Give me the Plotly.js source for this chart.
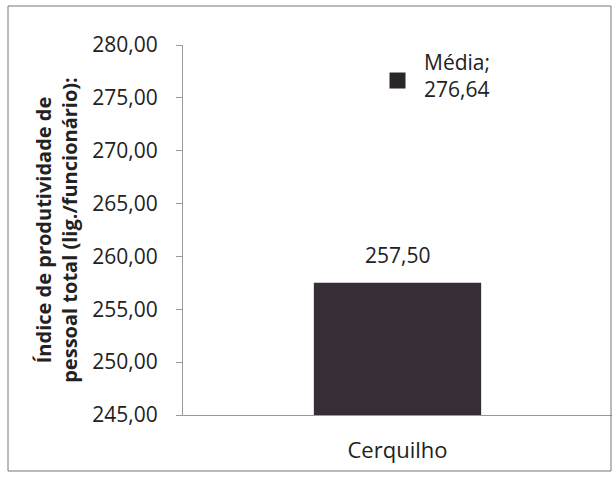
<!DOCTYPE html>
<html>
<head>
<meta charset="utf-8">
<script src="https://cdn.plot.ly/plotly-3.0.1.min.js"></script>
<style>
html,body{margin:0;padding:0;background:#fff;}
#chart{width:614px;height:479px;}
</style>
</head>
<body>
<div id="chart"></div>
<script>
const categories = ["Cerquilho"];
const barValues = [257.50];
const meanLabel = "Média";
const meanValues = [276.64];
const yTicks = [245, 250, 255, 260, 265, 270, 275, 280];
const yTitle = "Índice de produtividade de<br>pessoal total (lig./funcionário):";

const fmt = v => v.toFixed(2).replace(".", ",");
const FONT = "Open Sans, sans-serif";

const traces = [
  {
    type: "bar",
    x: categories,
    y: barValues,
    width: 0.39,
    marker: {color: "#372d36", line: {width: 0}},
    hoverinfo: "skip",
    showlegend: false
  },
  {
    type: "scatter",
    mode: "markers",
    x: categories,
    y: meanValues,
    marker: {symbol: "square", size: 16, color: "#2b2628"},
    cliponaxis: false,
    showlegend: false
  }
];

const annotations = categories.map((c, i) => ({
  x: c, y: barValues[i], xref: "x", yref: "y",
  text: fmt(barValues[i]), showarrow: false, yshift: 28,
  font: {family: FONT, size: 21, color: "#222"}
})).concat(categories.map((c, i) => ({
  x: c, y: meanValues[i], xref: "x", yref: "y",
  text: meanLabel + ";<br>" + fmt(meanValues[i]), showarrow: false,
  xanchor: "left", align: "left", xshift: 24, yshift: 5,
  font: {family: FONT, size: 21, color: "#222"}
})));

const plotL = 183, plotR = 612, plotT = 45, plotB = 415;
const pw = plotR - plotL, ph = plotB - plotT;

const layout = {
  width: 614, height: 479,
  margin: {l: plotL, r: 614 - plotR, t: plotT, b: 479 - plotB},
  paper_bgcolor: "#fff", plot_bgcolor: "#fff",
  separators: ",.",
  xaxis: {
    showline: true, linecolor: "#999", linewidth: 1,
    ticks: "", showgrid: false, zeroline: false,
    tickfont: {family: FONT, size: 22, color: "#222"},
    ticklabelstandoff: 16
  },
  yaxis: {
    range: [245, 280],
    tickvals: yTicks,
    ticktext: yTicks.map(fmt),
    showline: true, linecolor: "#999", linewidth: 1,
    ticks: "outside", ticklen: 6, tickcolor: "#999",
    ticklabelstandoff: 14,
    showgrid: false, zeroline: false,
    tickfont: {family: FONT, size: 21, color: "#222"},
    title: {text: yTitle, standoff: 9, font: {family: FONT, size: 20, color: "#222", weight: "bold"}}
  },
  annotations: annotations,
  shapes: [{
    type: "rect", xref: "paper", yref: "paper",
    x0: (8 - plotL) / pw, x1: (611 - plotL) / pw,
    y0: (plotB - 471) / ph, y1: (plotB - 6) / ph,
    line: {color: "#777", width: 1}
  }]
};

Plotly.newPlot("chart", traces, layout, {displayModeBar: false, staticPlot: true});
</script>
</body>
</html>
